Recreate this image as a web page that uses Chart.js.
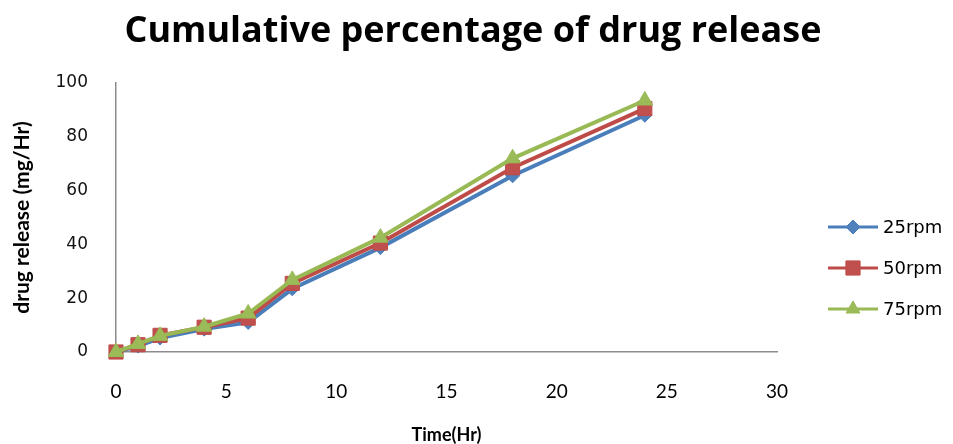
<!DOCTYPE html>
<html>
<head>
<meta charset="utf-8">
<title>Cumulative percentage of drug release</title>
<script src="https://cdn.jsdelivr.net/npm/chart.js@4.4.1/dist/chart.umd.min.js"></script>
<style>
  html, body { margin: 0; padding: 0; background: #ffffff; }
  canvas { display: block; }
</style>
</head>
<body>
<canvas id="chart" width="953" height="444"></canvas>
<script>
// Sampling times (hours) and cumulative release (mg/Hr) at each stirring speed
const timeHr = [0, 1, 2, 4, 6, 8, 12, 18, 24];
const rpm25 = [0, 2.2, 5.2, 8.5, 11, 23.5, 38.8, 65.5, 88];
const rpm50 = [0, 2.7, 6.2, 9.2, 12.6, 25.5, 40.5, 68.5, 90.5];
const rpm75 = [0, 3.0, 6.0, 9.4, 14.3, 26.8, 42.5, 72, 93.5];
const seriesNames = ['25rpm', '50rpm', '75rpm'];
const xTicks = [0, 5, 10, 15, 20, 25, 30];
const yTicks = [0, 20, 40, 60, 80, 100];
const chartTitle = 'Cumulative percentage of drug release';

const toPoints = (vals) => vals.map((v, i) => ({ x: timeHr[i], y: v }));

const AXIS_GREY = '#8c8c8c';

// Heading centred across the whole canvas, above the plot
const pageTitle = {
  id: 'pageTitle',
  afterDraw(chart) {
    const ctx = chart.ctx;
    ctx.save();
    ctx.fillStyle = '#000000';
    ctx.font = 'bold 36px "Open Sans"';
    ctx.textAlign = 'center';
    ctx.textBaseline = 'alphabetic';
    ctx.fillText(chartTitle, 473, 42);
    ctx.restore();
  }
};

// Excel-style legend: a short line with the series marker through it
const sideLegend = {
  id: 'sideLegend',
  afterDraw(chart) {
    const { ctx, chartArea } = chart;
    const x0 = chartArea.right + 51;
    const lineLen = 50;
    chart.data.datasets.forEach((ds, i) => {
      const y = 227 + i * 41;
      ctx.save();
      ctx.strokeStyle = ds.borderColor;
      ctx.lineWidth = 3;
      ctx.beginPath();
      ctx.moveTo(x0, y);
      ctx.lineTo(x0 + lineLen, y);
      ctx.stroke();
      ctx.fillStyle = ds.pointBackgroundColor;
      ctx.strokeStyle = ds.pointBorderColor;
      ctx.lineWidth = 1;
      Chart.helpers.drawPoint(ctx, {
        pointStyle: ds.pointStyle,
        radius: ds.legendRadius,
        borderWidth: 1,
        rotation: 0
      }, x0 + lineLen / 2, y);
      ctx.fillStyle = '#000000';
      ctx.font = '18px "DejaVu Sans"';
      ctx.textBaseline = 'middle';
      ctx.textAlign = 'left';
      ctx.fillText(ds.label, x0 + lineLen + 5, y + 1);
      ctx.restore();
    });
  }
};

new Chart(document.getElementById('chart'), {
  type: 'line',
  data: {
    datasets: [
      {
        label: seriesNames[0],
        data: toPoints(rpm25),
        borderColor: '#4A7EBB',
        backgroundColor: '#4F81BD',
        pointBackgroundColor: '#4F81BD',
        pointBorderColor: '#4A7EBB',
        pointStyle: 'rectRot',
        pointRadius: 7,
        legendRadius: 7,
        clip: false,
        order: 3
      },
      {
        label: seriesNames[1],
        data: toPoints(rpm50),
        borderColor: '#BE4B48',
        backgroundColor: '#C0504D',
        pointBackgroundColor: '#C0504D',
        pointBorderColor: '#BE4B48',
        pointStyle: 'rect',
        pointRadius: 10,
        legendRadius: 10,
        clip: false,
        order: 2
      },
      {
        label: seriesNames[2],
        data: toPoints(rpm75),
        borderColor: '#98B954',
        backgroundColor: '#9BBB59',
        pointBackgroundColor: '#9BBB59',
        pointBorderColor: '#98B954',
        pointStyle: 'triangle',
        pointRadius: 9,
        legendRadius: 8,
        clip: false,
        order: 1
      }
    ]
  },
  options: {
    responsive: false,
    animation: false,
    devicePixelRatio: 1,
    elements: {
      line: { borderWidth: 4, tension: 0, fill: false },
      point: { borderWidth: 1, hoverRadius: 9 }
    },
    layout: { padding: { left: 0, right: 176, top: 83, bottom: 0 } },
    plugins: {
      legend: { display: false },
      tooltip: { enabled: false },
      title: { display: false }
    },
    scales: {
      x: {
        type: 'linear',
        min: 0,
        max: 30,
        afterBuildTicks(scale) { scale.ticks = xTicks.map(v => ({ value: v })); },
        afterFit(scale) { scale.height = 92; scale.paddingLeft = 0; scale.paddingRight = 0; },
        grid: { display: false },
        border: { display: true, color: AXIS_GREY, width: 1.5 },
        ticks: {
          color: '#000000',
          font: { family: 'Lato', size: 19 },
          padding: 20,
          maxRotation: 0
        },
        title: {
          display: true,
          text: 'Time(Hr)',
          color: '#000000',
          font: { family: 'Lato', size: 18, weight: 'bold' },
          padding: { top: 0, bottom: -2 }
        }
      },
      y: {
        type: 'linear',
        min: 0,
        max: 100,
        afterBuildTicks(scale) { scale.ticks = yTicks.map(v => ({ value: v })); },
        afterFit(scale) { scale.width = 116; scale.paddingTop = 0; scale.paddingBottom = 0; },
        grid: { display: false },
        border: { display: true, color: AXIS_GREY, width: 1.5 },
        ticks: {
          color: '#111111',
          font: { family: 'DejaVu Sans', size: 17 },
          padding: 20
        },
        title: {
          display: true,
          text: 'drug release (mg/Hr)',
          color: '#000000',
          font: { family: 'Lato', size: 21, weight: 'bold' },
          padding: { top: 10, bottom: 0 }
        }
      }
    }
  },
  plugins: [pageTitle, sideLegend]
});
</script>
</body>
</html>
